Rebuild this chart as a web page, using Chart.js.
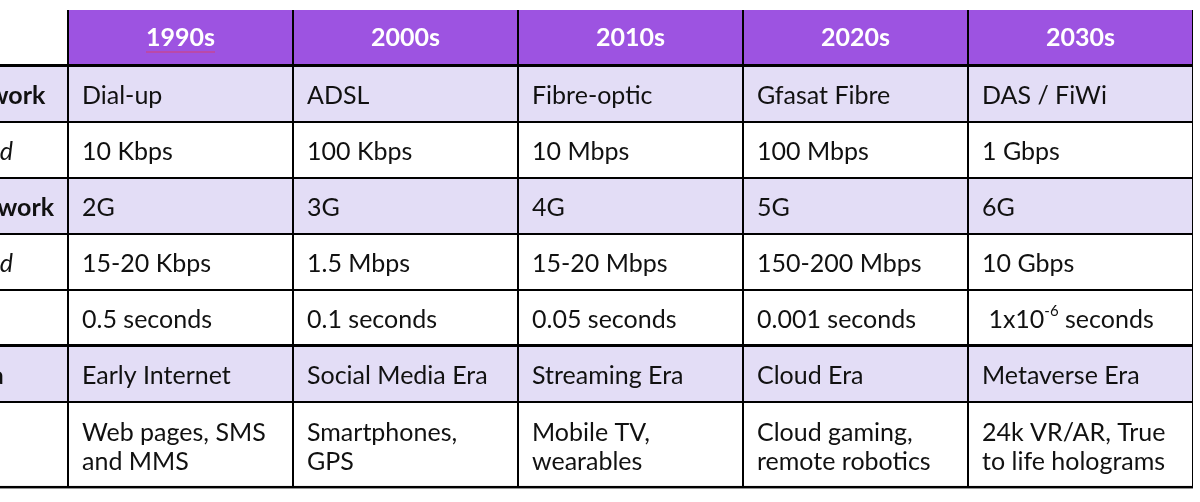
<!DOCTYPE html>
<html lang="en">
<head>
  <meta charset="UTF-8" />
  <title>Network generations</title>
  <script src="https://cdn.jsdelivr.net/npm/chart.js"></script>
  <style>
    body {
      margin: 0;
      background: #fff;
      overflow: hidden;
      width: 1200px;
      height: 502px;
      position: relative;
    }
    /* canvas is wider than the window: the label column is cut off on the left like the original */
    #tableChart {
      position: absolute;
      left: -200px;
      top: 0;
    }
  </style>
</head>
<body>
  <canvas id="tableChart" width="1400" height="502"></canvas>

<script>
  // table content
  const decades = ['1990s', '2000s', '2010s', '2020s', '2030s'];
  const rowLabels = ['Wired Network', 'Typical Speed', 'Mobile Network', 'Typical Speed', 'Latency', 'Internet Era', 'Use Cases'];
  const labelStyles = ['bold', 'italic', 'bold', 'italic', 'italic', 'bold', 'bold'];
  const fixedNetwork = ['Dial-up', 'ADSL', 'Fibre-optic', 'Gfasat Fibre', 'DAS / FiWi'];
  const fixedSpeed = ['10 Kbps', '100 Kbps', '10 Mbps', '100 Mbps', '1 Gbps'];
  const mobileNetwork = ['2G', '3G', '4G', '5G', '6G'];
  const mobileSpeed = ['15-20 Kbps', '1.5 Mbps', '15-20 Mbps', '150-200 Mbps', '10 Gbps'];
  const latency = ['0.5 seconds', '0.1 seconds', '0.05 seconds', '0.001 seconds', ' 1x10^-6 seconds'];
  const era = ['Early Internet', 'Social Media Era', 'Streaming Era', 'Cloud Era', 'Metaverse Era'];
  const useCases = [
    ['Web pages, SMS', 'and MMS'],
    ['Smartphones,', 'GPS'],
    ['Mobile TV,', 'wearables'],
    ['Cloud gaming,', 'remote robotics'],
    ['24k VR/AR, True', 'to life holograms']
  ];

  const bodyRows = [fixedNetwork, fixedSpeed, mobileNetwork, mobileSpeed, latency, era, useCases];
  const shadedRows = [0, 2, 5];      // lavender rows
  const thickAfter = [4, 6];         // heavier rule under these rows

  const PURPLE = '#9d53e1';
  const LAVENDER = '#e3ddf6';
  const INK = '#111111';
  const FONT = 'Lato, "Noto Sans", sans-serif';
  const ROW_PX = 56;                 // one row unit in pixels
  const TOP_PX = 10;

  // every row is one unit tall, plus a bit per extra text line
  const lineCount = v => Array.isArray(v) ? v.length : 1;
  const rowHeights = [1].concat(bodyRows.map(r => 1 + 0.55 * (Math.max(...r.map(lineCount)) - 1)));
  const rowEdges = [0];
  rowHeights.forEach(h => rowEdges.push(rowEdges[rowEdges.length - 1] + h));
  const totalHeight = rowEdges[rowEdges.length - 1];

  const columns = [''].concat(decades);

  const datasets = rowHeights.map((h, r) => ({
    label: r === 0 ? 'header' : rowLabels[r - 1],
    data: columns.map(() => [rowEdges[r], rowEdges[r + 1]]),
    grouped: false,
    barPercentage: 1,
    categoryPercentage: 1,
    borderSkipped: false,
    inflateAmount: 0,
    borderColor: '#000',
    backgroundColor: columns.map((c, i) => {
      if (r === 0) return i === 0 ? '#ffffff' : PURPLE;
      return shadedRows.includes(r - 1) ? LAVENDER : '#ffffff';
    }),
    borderWidth: columns.map((c, i) => {
      if (r === 0) return { top: 0, left: i === 0 ? 0 : 1, right: 1, bottom: 2 };
      const last = r === rowHeights.length - 1;
      return {
        top: 1,
        left: 1,
        right: 1,
        bottom: last ? 3 : (thickAfter.includes(r - 1) ? 2 : 1)
      };
    })
  }));

  // draws "a^b c" with b as superscript
  function drawRich(ctx, text, x, y, size) {
    const parts = text.split(/\^(\S+)/);
    parts.forEach((p, k) => {
      if (k % 2 === 1) {
        ctx.font = `${Math.round(size * 0.6)}px ${FONT}`;
        ctx.fillText(p, x, y - size * 0.36);
      } else {
        ctx.font = `${size}px ${FONT}`;
        ctx.fillText(p, x, y);
      }
      x += ctx.measureText(p).width;
    });
  }

  const cellText = {
    id: 'cellText',
    afterDatasetsDraw(chart) {
      const ctx = chart.ctx;
      const size = 25;
      const pad = 14;
      const labelPad = 29;
      const lineH = 29;
      ctx.save();
      ctx.textBaseline = 'middle';
      chart.data.datasets.forEach((ds, r) => {
        const meta = chart.getDatasetMeta(r);
        meta.data.forEach((el, c) => {
          const left = el.x - el.width / 2;
          const top = Math.min(el.y, el.base);
          const bottom = Math.max(el.y, el.base);
          const mid = (top + bottom) / 2;
          if (r === 0) {
            if (c === 0) return;
            ctx.fillStyle = '#ffffff';
            ctx.font = `bold ${size}px ${FONT}`;
            ctx.textAlign = 'center';
            ctx.fillText(decades[c - 1], el.x, mid);
            if (c === 1) {
              // spell-check squiggle under the first heading
              const w = ctx.measureText(decades[0]).width;
              ctx.strokeStyle = 'rgba(196, 70, 150, 0.75)';
              ctx.lineWidth = 2;
              ctx.beginPath();
              ctx.moveTo(el.x - w / 2, mid + 14);
              ctx.lineTo(el.x + w / 2, mid + 14);
              ctx.stroke();
            }
            return;
          }
          ctx.fillStyle = INK;
          ctx.textAlign = 'left';
          if (c === 0) {
            ctx.font = `${labelStyles[r - 1]} ${size}px ${FONT}`;
            ctx.fillText(rowLabels[r - 1], left + labelPad, mid + 2);
            return;
          }
          const v = bodyRows[r - 1][c - 1];
          const lines = Array.isArray(v) ? v : [v];
          const y0 = mid + 2 - (lines.length - 1) * lineH / 2;
          lines.forEach((t, k) => drawRich(ctx, t, left + pad, y0 + k * lineH, size));
        });
      });
      ctx.restore();
    }
  };

  const tableChart = new Chart(document.getElementById('tableChart').getContext('2d'), {
    type: 'bar',
    data: { labels: columns, datasets: datasets },
    options: {
      responsive: false,
      animation: false,
      layout: { padding: { left: 43, right: 7, top: TOP_PX, bottom: 502 - TOP_PX - ROW_PX * totalHeight } },
      plugins: { legend: { display: false }, tooltip: { enabled: false } },
      scales: {
        x: { type: 'category', display: false, offset: true },
        y: { type: 'linear', display: false, reverse: true, min: 0, max: totalHeight }
      }
    },
    plugins: [cellText]
  });
</script>
</body>
</html>
